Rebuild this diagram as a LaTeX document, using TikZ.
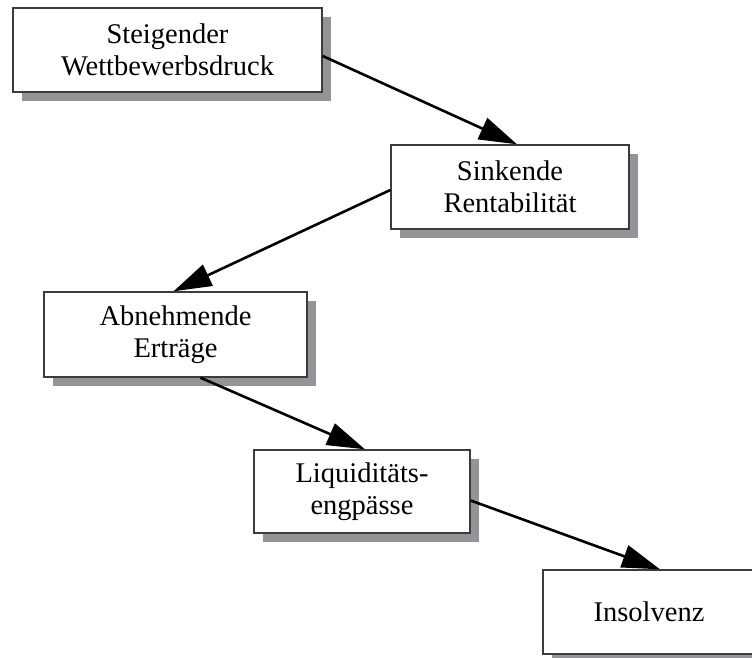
\documentclass[tikz,border=0pt]{standalone}
\usepackage{fontspec}
\setmainfont{Liberation Serif}
\usetikzlibrary{calc, arrows.meta, shadows}
\definecolor{boxborder}{RGB}{60,60,60}
\definecolor{shadowgray}{RGB}{148,148,152}

\begin{document}
\begin{tikzpicture}[x=1pt, y=-1pt]

        % Styles
        \tikzset{
            stage/.style={draw=boxborder, line width=1.4pt, fill=white, align=center,
                font=\fontsize{28.5}{32}\selectfont,
                drop shadow={shadow xshift=9pt, shadow yshift=-9pt, fill=shadowgray, opacity=1}},
            flow/.style={-{Triangle[length=38pt, width=23pt]}, line width=2.6pt, black}
        }

        \useasboundingbox (0,0) rectangle (752,657);

        % --- Stufen ---
        \node[stage, minimum width=309pt, minimum height=84pt] (druck) at (167.5,50) {Steigender\\Wettbewerbsdruck};
        \node[stage, minimum width=238pt, minimum height=84pt] (rendite) at (510,187) {Sinkende\\Rentabilität};
        \node[stage, minimum width=263pt, minimum height=85pt] (ertrag) at (175.5,334.5) {Abnehmende\\Erträge};
        \node[stage, minimum width=216pt, minimum height=83pt] (liqui) at (362,491.5) {Liquiditäts-\\engpässe};
        \node[stage, minimum width=212pt, minimum height=84pt] (insolv) at (649,612) {Insolvenz};

        % --- Pfeile ---
        \draw[flow] ($(druck.east)+(0,6)$) -- ($(rendite.north)+(7,0)$);
        \draw[flow] ($(rendite.west)+(0,3)$) -- ($(ertrag.north)+(-2,0)$);
        \draw[flow] ($(ertrag.south)+(25,0)$) -- ($(liqui.north)+(3,0)$);
        \draw[flow] ($(liqui.east)+(0,9)$) -- ($(insolv.north)+(11,0)$);

\end{tikzpicture}
\end{document}
